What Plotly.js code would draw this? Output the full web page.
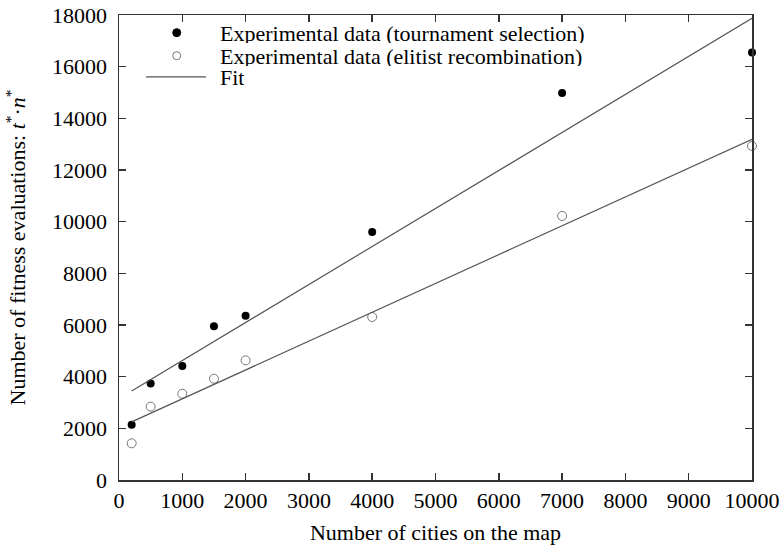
<!DOCTYPE html>
<html><head><meta charset="utf-8">
<script src="https://cdn.plot.ly/plotly-3.0.1.min.js"></script>
<style>html,body{margin:0;padding:0;background:#fff}#chart{width:782px;height:546px}</style>
</head><body><div id="chart"></div>
<script>
const cities = [200, 500, 1000, 1500, 2000, 4000, 7000, 10000];
const tournament = [2140, 3740, 4410, 5950, 6360, 9600, 14980, 16550];
const elitist = [1420, 2840, 3340, 3920, 4630, 6310, 10220, 12930];
const fitX = [200, 10000];
const fitTournament = [3445, 17870];
const fitElitist = [2250, 13190];
const xTicks = [0,1000,2000,3000,4000,5000,6000,7000,8000,9000,10000];
const yTicks = [0,2000,4000,6000,8000,10000,12000,14000,16000,18000];
const legendLabels = ['Experimental data (tournament selection)',
                      'Experimental data (elitist recombination)', 'Fit'];

const font = {family: 'Liberation Serif, Times New Roman, serif', size: 22, color: '#000'};
const traces = [
  {x: cities, y: tournament, mode: 'markers', type: 'scatter', cliponaxis: false,
   name: legendLabels[0], marker: {symbol: 'circle', size: 8, color: '#000'}},
  {x: cities, y: elitist, mode: 'markers', type: 'scatter', cliponaxis: false,
   name: legendLabels[1],
   marker: {symbol: 'circle-open', size: 9, color: '#777', line: {width: 1}}},
  {x: fitX, y: fitTournament, mode: 'lines', type: 'scatter', name: legendLabels[2],
   line: {color: '#555', width: 1.2}},
  {x: fitX, y: fitElitist, mode: 'lines', type: 'scatter', name: legendLabels[2],
   line: {color: '#555', width: 1.2}}
];
const axisCommon = {
  showgrid: false, zeroline: false, showline: true, linecolor: '#333', linewidth: 1.5,
  mirror: 'ticks', ticks: 'inside', ticklen: 7, tickcolor: '#333', tickwidth: 1.5,
  tickfont: font
};
const lx = 0.0912, ly = [0.962, 0.9125, 0.867], tx = 0.1585;
const shapes = [
  {type: 'circle', xref: 'paper', yref: 'paper', xsizemode: 'pixel', ysizemode: 'pixel',
   xanchor: lx, yanchor: ly[0], x0: -4, x1: 4, y0: -4, y1: 4,
   fillcolor: '#000', line: {color: '#000', width: 1}},
  {type: 'circle', xref: 'paper', yref: 'paper', xsizemode: 'pixel', ysizemode: 'pixel',
   xanchor: lx, yanchor: ly[1], x0: -4, x1: 4, y0: -4, y1: 4,
   fillcolor: 'rgba(0,0,0,0)', line: {color: '#777', width: 1}},
  {type: 'line', xref: 'paper', yref: 'paper', x0: 0.0427, x1: 0.1374, y0: ly[2], y1: ly[2],
   line: {color: '#555', width: 1.2}}
];
const annotations = legendLabels.map((t, i) => ({
  text: t, xref: 'paper', yref: 'paper', x: tx, y: ly[i], xanchor: 'left', yanchor: 'middle',
  showarrow: false, font: font, height: 20, borderpad: 0
}));
const layout = {
  width: 782, height: 546,
  margin: {l: 119, r: 30, t: 15, b: 66},
  paper_bgcolor: '#fff', plot_bgcolor: '#fff',
  font: font,
  showlegend: false,
  shapes: shapes, annotations: annotations,
  xaxis: Object.assign({}, axisCommon, {range: [0, 10000], tickvals: xTicks,
    ticktext: xTicks.map(String),
    title: {text: 'Number of cities on the map', font: font, standoff: 12}}),
  yaxis: Object.assign({}, axisCommon, {range: [0, 18000], tickvals: yTicks,
    ticktext: yTicks.map(String), ticklabelstandoff: 6,
    title: {text: 'Number of fitness evaluations: <i>t</i><sup>*</sup>·<i>n</i><sup>*</sup>', font: font, standoff: 20}})
};
Plotly.newPlot('chart', traces, layout, {displayModeBar: false, staticPlot: true});
</script></body></html>
